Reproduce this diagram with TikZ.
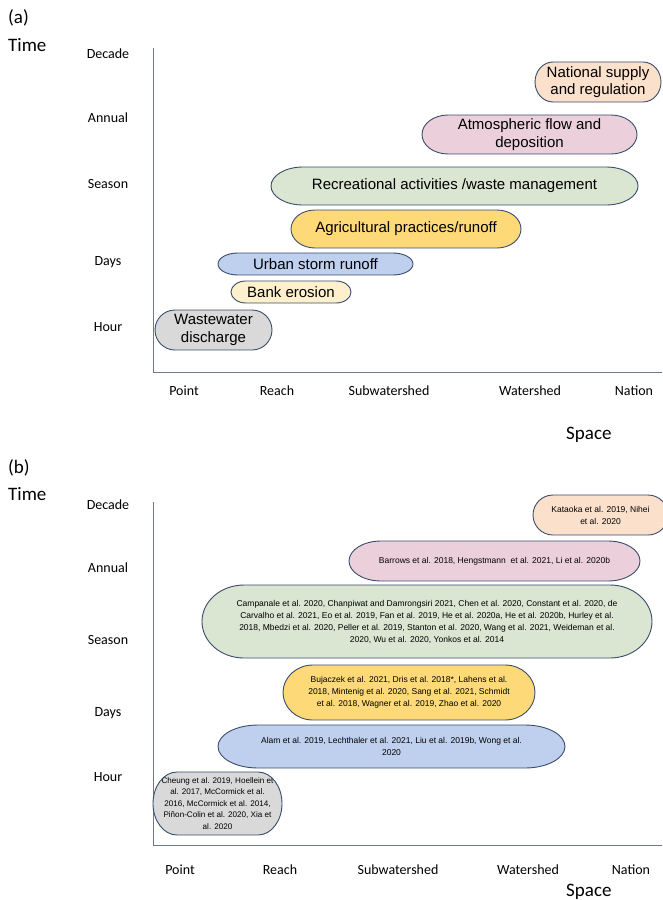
\documentclass[tikz,border=0pt]{standalone}
\usepackage{fontspec}
\setmainfont{Liberation Sans}
\newfontfamily\calibri{Carlito}

\definecolor{peach}{HTML}{FBE0CB}
\definecolor{rose}{HTML}{EBD0DC}
\definecolor{sage}{HTML}{DAE5D2}
\definecolor{amber}{HTML}{FED978}
\definecolor{sky}{HTML}{BFD0EE}
\definecolor{cream}{HTML}{FEF0CC}
\definecolor{ash}{HTML}{D9D9D9}
\definecolor{edge}{HTML}{3A4C6C}
\definecolor{axisgrey}{HTML}{6B7A90}

\tikzset{
  oval/.style={draw=edge,line width=0.9pt},
  bigtxt/.style={font=\fontsize{15}{17.5}\selectfont,align=center,inner sep=0pt},
  smalltxt/.style={font=\fontsize{8.5}{12}\selectfont,align=center,inner sep=0pt},
  tinytxt/.style={font=\fontsize{8.1}{11.5}\selectfont,align=center,inner sep=0pt},
  scalelabel/.style={font=\calibri\fontsize{14}{16}\selectfont,inner sep=0pt},
  axistitle/.style={font=\calibri\fontsize{19}{22}\selectfont,inner sep=0pt,anchor=west},
  axisline/.style={draw=axisgrey,line width=1pt}
}

% oval box: name, text style, fill, x1, x2, y1, y2, end radius, text
\newcommand\ovalbox[9]{%
  \begin{scope}
    \clip ({#4+#8},#6) -- ({#5-#8},#6)
      arc[start angle=-90,end angle=90,x radius=#8,y radius={(#7-#6)/2}]
      -- ({#4+#8},#7)
      arc[start angle=90,end angle=270,x radius=#8,y radius={(#7-#6)/2}] -- cycle;
    \fill[#3] (#4,#6) rectangle (#5,#7);
    \node[#2] (#1) at ({(#4+#5)/2},{(#6+#7)/2}) {#9};
  \end{scope}
  \draw[oval] ({#4+#8},#6) -- ({#5-#8},#6)
    arc[start angle=-90,end angle=90,x radius=#8,y radius={(#7-#6)/2}]
    -- ({#4+#8},#7)
    arc[start angle=90,end angle=270,x radius=#8,y radius={(#7-#6)/2}] -- cycle;}

\begin{document}
\begin{tikzpicture}[x=1pt,y=-1pt]
	\useasboundingbox (0,0) rectangle (662,900);

	% panel (a)
	\node[axistitle] (a-tag) at (8,18) {(a)};
	\node[axistitle] (a-time) at (8,45) {Time};
	\node[axistitle] (a-space) at (566,435) {Space};
	\coordinate (a-top) at (153,48);
	\coordinate (a-org) at (153,372);
	\coordinate (a-end) at (662,372);
	\draw[axisline] (a-top) -- (a-org) -- (a-end);
	\foreach \lab/\yy in {Decade/54, Annual/118, Season/184, Days/262, Hour/327}
		\node[scalelabel] (a-\lab) at (108,\yy) {\lab};
	\foreach \lab/\xx in {Point/184, Reach/277, Subwatershed/389, Watershed/530, Nation/634}
		\node[scalelabel] (a-\lab) at (\xx,391) {\lab};

	\ovalbox{a-nat}{bigtxt}{peach}{535}{661}{62}{102}{18}{National supply\\and regulation}
	\ovalbox{a-atm}{bigtxt}{rose}{422}{637}{115}{154}{26}{Atmospheric flow and\\deposition}
	\ovalbox{a-rec}{bigtxt}{sage}{271}{638}{167}{205}{32}{Recreational activities /waste management}
	\ovalbox{a-agr}{bigtxt}{amber}{291}{521}{210}{248}{24}{Agricultural practices/runoff}
	\ovalbox{a-urb}{bigtxt}{sky}{218}{413}{253}{275}{20}{Urban storm runoff}
	\ovalbox{a-bank}{bigtxt}{cream}{231}{351}{281}{303}{15}{Bank erosion}
	\ovalbox{a-waste}{bigtxt}{ash}{155}{272}{310}{350}{20}{Wastewater\\discharge}

	% panel (b)
	\node[axistitle] (b-tag) at (8,468) {(b)};
	\node[axistitle] (b-time) at (8,494) {Time};
	\node[axistitle] (b-space) at (566,892) {Space};
	\coordinate (b-top) at (153,502);
	\coordinate (b-org) at (153,845);
	\coordinate (b-end) at (662,845);
	\draw[axisline] (b-top) -- (b-org) -- (b-end);
	\foreach \lab/\yy in {Decade/505, Annual/568, Season/640, Days/713, Hour/777}
		\node[scalelabel] (b-\lab) at (108,\yy) {\lab};
	\foreach \lab/\xx in {Point/180, Reach/280, Subwatershed/398, Watershed/528, Nation/631}
		\node[scalelabel] (b-\lab) at (\xx,870) {\lab};

	\ovalbox{b-nat}{smalltxt}{peach}{533}{668}{495}{535}{20}{Kataoka et al. 2019, Nihei\\et al. 2020}
	\ovalbox{b-atm}{smalltxt}{rose}{349}{640}{541}{581}{32}{Barrows et al. 2018, Hengstmann~ et al. 2021, Li et al. 2020b}
	\ovalbox{b-rec}{smalltxt}{sage}{202}{652}{585}{658}{42}{Campanale et al. 2020, Chanpiwat and Damrongsiri 2021, Chen et al. 2020, Constant et al. 2020, de\\Carvalho et al. 2021, Eo et al. 2019, Fan et al. 2019, He et al. 2020a, He et al. 2020b, Hurley et al.\\2018, Mbedzi et al. 2020, Peller et al. 2019, Stanton et al. 2020, Wang et al. 2021, Weideman et al.\\2020, Wu et al. 2020, Yonkos et al. 2014}
	\ovalbox{b-agr}{smalltxt}{amber}{283}{535}{665}{720}{30}{Bujaczek et al. 2021, Dris et al. 2018*, Lahens et al.\\2018, Mintenig et al. 2020, Sang et al. 2021, Schmidt\\et al. 2018, Wagner et al. 2019, Zhao et al. 2020}
	\ovalbox{b-urb}{smalltxt}{sky}{218}{565}{725}{768}{40}{Alam et al. 2019, Lechthaler et al. 2021, Liu et al. 2019b, Wong et al.\\2020}
	\ovalbox{b-waste}{tinytxt}{ash}{153}{282}{772}{835}{24}{Cheung et al. 2019, Hoellein et\\al. 2017, McCormick et al.\\2016, McCormick et al. 2014,\\Piñon-Colin et al. 2020, Xia et\\al. 2020}
\end{tikzpicture}
\end{document}
